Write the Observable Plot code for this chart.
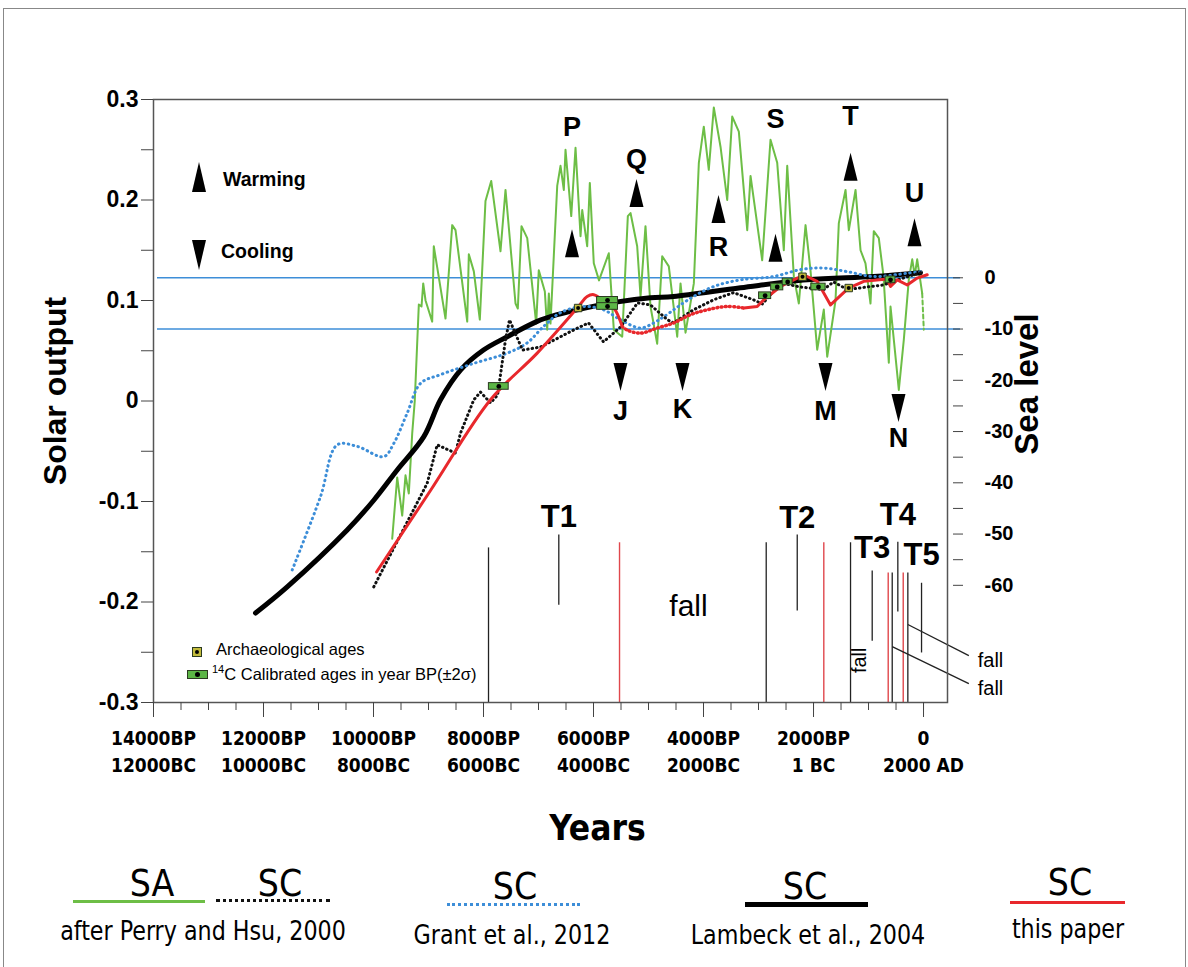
<!DOCTYPE html>
<html><head><meta charset="utf-8">
<script src="https://cdn.jsdelivr.net/npm/d3@7"></script>
<script src="https://cdn.jsdelivr.net/npm/@observablehq/plot@0.6"></script>
<style>
body{margin:0;background:#fff;font-family:Arial,"Liberation Sans",sans-serif;}
#wrap{position:relative;width:1188px;height:967px;overflow:hidden;background:#fff;}
#border{position:absolute;left:3px;top:8px;width:1181px;height:990px;border:1px solid #888;}
#chart{position:absolute;left:0;top:0;}
.abs{position:absolute;white-space:nowrap;color:#000;}
.ctr{transform:translate(-50%,-50%);}
.narrow{font-family:"Liberation Sans Narrow","DejaVu Sans Condensed","Arial Narrow",sans-serif;font-stretch:condensed;}
</style></head>
<body>
<div id="wrap">
<div id="border"></div>
<div id="chart"></div>
</div>
<script>
// ---------------- DATA ----------------
// x axis (years BP), tick labels
const X_TICK_BP = [14000, 12000, 10000, 8000, 6000, 4000, 2000, 0];
const X_TICK_BP_LABEL = ["14000BP","12000BP","10000BP","8000BP","6000BP","4000BP","2000BP","0"];
const X_TICK_CAL_LABEL = ["12000BC","10000BC","8000BC","6000BC","4000BC","2000BC","1 BC","2000 AD"];
const X_MINOR_STEP = 500;
const SOLAR_TICKS = [-0.3,-0.25,-0.2,-0.15,-0.1,-0.05,0,0.05,0.1,0.15,0.2,0.25,0.3];
const SEA_TICKS = [0,-5,-10,-15,-20,-25,-30,-35,-40,-45,-50,-55,-60];

// SA: solar activity (after Perry and Hsu, 2000) – solar output units
const saBP = [9660,9569,9478,9418,9358,9296,9250,9176,9127,9096,9054,8933,8904,8691,8569,8509,8296,8267,8176,8067,7964,7860,7691,7600,7418,7376,7309,7205,7042,6995,6885,6842,6812,6782,6660,6600,6540,6509,6405,6327,6236,6205,6115,6067,5995,5900,5722,5631,5478,5376,5327,5206,5145,5055,4964,4842,4751,4631,4478,4418,4327,4176,4085,3995,3904,3813,3691,3569,3478,3358,3205,3145,2933,2782,2660,2540,2478,2358,2267,2145,2055,1933,1813,1751,1600,1540,1418,1358,1236,1145,1055,964,904,813,727,631,600,449,358,267,205,160,115,24];
const saValue = [-0.137,-0.076,-0.114,-0.074,-0.092,-0.032,0.0,0.096,0.094,0.117,0.1,0.079,0.154,0.082,0.175,0.170,0.079,0.146,0.129,0.081,0.199,0.219,0.149,0.210,0.097,0.092,0.174,0.162,0.077,0.130,0.109,0.071,0.107,0.077,0.214,0.234,0.210,0.250,0.184,0.252,0.164,0.190,0.154,0.217,0.137,0.12,0.147,0.071,0.064,0.184,0.187,0.154,0.104,0.174,0.094,0.057,0.144,0.134,0.064,0.117,0.068,0.117,0.237,0.273,0.230,0.292,0.253,0.200,0.283,0.268,0.170,0.224,0.140,0.260,0.237,0.150,0.234,0.124,0.097,0.175,0.130,0.051,0.091,0.044,0.100,0.177,0.210,0.170,0.210,0.150,0.137,0.097,0.169,0.162,0.124,0.038,0.094,0.011,0.061,0.121,0.141,0.125,0.141,0.107];
const saTailBP = [24, -5];
const saTailValue = [0.107, 0.071];

// SC: sea-level curves (metres)
const perryBP = [9995,9024,8842,8509,8418,8176,8055,7873,7745,7600,7527,7436,7291,6964,6364,6091,5818,5509,5200,4964,4655,4545,4182,3818,3455,3091,2927,2600,2236,1818,1636,1382,964,727,473,55];
const perrySL = [-60.3,-40.1,-32.6,-34.2,-30.3,-23.8,-22.3,-24.4,-22.9,-12.1,-8.2,-10.5,-14.1,-13.5,-10.2,-8.8,-12.5,-9.6,-4.9,-5.3,-8.2,-8.8,-6.25,-4.3,-2.9,-4.3,-5.1,-1.0,-1.8,-2.3,-0.8,-2.3,-1.7,-1.4,-0.4,1.0];

const grantBP = [11478,10964,10660,10296,9813,9631,9387,9145,8782,8176,7569,7205,6909,6600,6182,5818,5509,5145,4904,4722,4236,3813,3327,2722,2236,1813,1387,904,296,55];
const grantSL = [-57.0,-42.7,-32.6,-32.9,-34.9,-32.3,-26.4,-20.6,-18.9,-16.7,-14.7,-12.7,-9.5,-6.8,-5.6,-6.25,-8.2,-9.8,-8.8,-7.6,-4.0,-1.7,-0.4,0.25,1.6,1.9,1.2,0.25,0.9,1.2];

const lambeckBP = [12145,11569,10478,9995,9569,9085,8782,8418,8000,7569,7024,6660,6296,5691,4964,4545,3327,2115,909,55];
const lambeckSL = [-65.4,-60.3,-49.2,-43.4,-37.5,-31.0,-23.8,-18.0,-14.1,-11.5,-8.5,-7.2,-6.25,-4.9,-3.9,-3.65,-1.95,-0.4,0.25,1.0];

const redBP = [9945,8964,7873,7024,6296,6115,5995,5813,5631,5478,5387,5145,4842,4540,4236,3933,3569,3267,3024,2904,2600,2296,2115,1933,1691,1364,1085,661,600,478,296,115,-67];
const redSL = [-57.4,-41.5,-23.8,-14.7,-5.9,-3.65,-3.3,-4.6,-5.9,-9.5,-10.2,-10.8,-9.8,-8.8,-7.2,-6.25,-5.6,-5.9,-5.6,-4.3,-1.7,-0.06,0.25,-0.7,-5.3,-2.0,-0.7,-0.25,-1.7,-0.4,-1.4,-0.06,0.6];
const redUncertainFrom = 5478, redUncertainTo = 3267;

// 14C calibrated ages (BP, ±2σ) and archaeological ages
const c14BP  = [7722, 5745, 5745, 2880, 2660, 2470, 1910, 600];
const c14Err = [180, 190, 190, 110, 110, 90, 130, 90];
const c14SL  = [-21.2, -4.4, -5.6, -3.5, -1.8, -0.8, -1.8, -0.4];
const archBP = [6280, 2200, 1360];
const archSL = [-5.9, 0.2, -2.0];

// warming / cooling events (solar units)
const warmLabel = ["P","Q","R","S","T","U"];
const warmBP = [6391, 5218, 3727, 2691, 1327, 164];
const warmValue = [0.157, 0.207, 0.191, 0.1525, 0.233, 0.168];
const warmLabelValue = [0.272, 0.240, 0.153, 0.280, 0.283, 0.207];
const coolLabel = ["J","K","M","N"];
const coolBP = [5509, 4382, 1782, 455];
const coolValue = [0.0239, 0.0239, 0.0239, -0.007];
const coolLabelValue = [-0.010, -0.008, -0.010, -0.037];

// sea-level change markers (sea level, m)
const stepBP = [7909, 5527, 2860, 1813, 1327, 642, 569, 369, 285];
const stepTopSL = [-52.7, -51.7, -51.7, -51.7, -51.7, -57.6, -57.6, -57.6, -57.6];
const stepSource = ["ref","paper","ref","paper","ref","paper","ref","paper","ref"];
const tName = ["T1","T2","T3","T4","T5"];
const tBP = [6631, 2296, 933, 467, 36];
const tTopSL = [-50.2, -50.2, -57.2, -51.6, -59.6];
const tBottomSL = [-63.9, -65.0, -70.9, -65.2, -73.2];
const tLabelSL = [-46.7, -46.9, -52.7, -46.3, -54.1];
const fallBP = [4273, 1164, -1218, -1218];
const fallValue = [-0.2045, -0.258, -0.2583, -0.2862];
const leaderFromBP = [285, 569], leaderFromValue = [-0.2224, -0.2444];
const leaderToBP = [-824, -824], leaderToValue = [-0.2533, -0.2813];

// ---------------- BUILD ----------------
const SL0 = 0.1226, SL_PER_M = 0.0051;        // dual-axis alignment: sea level 0 m ↔ solar 0.1226
const sl2s = m => SL0 + SL_PER_M * m;

const zipRows = (xs, ys, f = v => v) => xs.map((x, i) => ({bp: x, v: f(ys[i])}));
const sa = zipRows(saBP, saValue);
const saTail = zipRows(saTailBP, saTailValue);
const perry = zipRows(perryBP, perrySL, sl2s);
const grant = zipRows(grantBP, grantSL, sl2s);
const lambeck = zipRows(lambeckBP, lambeckSL, sl2s);
const red = zipRows(redBP, redSL, sl2s);
const redA = red.filter(d => d.bp >= redUncertainFrom);
const redB = red.filter(d => d.bp <= redUncertainFrom && d.bp >= redUncertainTo);
const redC = red.filter(d => d.bp <= redUncertainTo);
const c14 = c14BP.map((b, i) => ({bp: b, err: c14Err[i], sl: c14SL[i]}));
const arch = zipRows(archBP, archSL, sl2s);
const warm = warmBP.map((b, i) => ({bp: b, v: warmValue[i], lv: warmLabelValue[i], label: warmLabel[i]}));
const cool = coolBP.map((b, i) => ({bp: b, v: coolValue[i], lv: coolLabelValue[i], label: coolLabel[i]}));
const steps = stepBP.map((b, i) => ({bp: b, top: sl2s(stepTopSL[i]), src: stepSource[i]}));
const tRows = tBP.map((b, i) => ({bp: b, y1: sl2s(tBottomSL[i]), y2: sl2s(tTopSL[i]), ly: sl2s(tLabelSL[i]), name: tName[i]}));
const falls = fallBP.map((b, i) => ({bp: b, v: fallValue[i]}));
const leaders = leaderFromBP.map((b, i) => ({x1: b, y1: leaderFromValue[i], x2: leaderToBP[i], y2: leaderToValue[i]}));
const xMinor = d3.range(0, 14001, X_MINOR_STEP);

const tallUp = {draw(ctx, size) { const r = Math.sqrt(size / Math.PI); ctx.moveTo(0, -2 * r); ctx.lineTo(r, 2 * r); ctx.lineTo(-r, 2 * r); ctx.closePath(); }};
const tallDown = {draw(ctx, size) { const r = Math.sqrt(size / Math.PI); ctx.moveTo(0, 2 * r); ctx.lineTo(r, -2 * r); ctx.lineTo(-r, -2 * r); ctx.closePath(); }};

const NARROW = "'Liberation Sans Narrow','DejaVu Sans Condensed','Arial Narrow',sans-serif";
const GREEN = "#6dbe46", RED = "#e8282c", BLUE = "#3d8ed8";

const solarFmt = d => { const i = Math.round(d / 0.05); if (i % 2 !== 0) return ""; const v = i * 0.05; return Math.abs(v) < 1e-9 ? "0" : v.toFixed(1); };
const seaFmt = d => { const m = Math.round((d - SL0) / SL_PER_M); return m % 10 === 0 ? String(m) : ""; };
const xFmt = d => { const i = X_TICK_BP.indexOf(d); return X_TICK_BP_LABEL[i] + "\n" + X_TICK_CAL_LABEL[i]; };

const plot = Plot.plot({
  width: 1188, height: 967,
  marginLeft: 153, marginRight: 241, marginTop: 99, marginBottom: 265,
  x: {domain: [14000, -436], axis: null},
  y: {domain: [-0.3, 0.3], axis: null},
  style: {fontFamily: "Arial, 'Liberation Sans', sans-serif", background: "transparent", overflow: "visible", color: "#000"},
  marks: [
    Plot.ruleY([0, -10].map(sl2s), {stroke: BLUE, strokeWidth: 1.4, insetLeft: 4, insetRight: -13}),
    Plot.ruleX(steps.filter(d => d.src === "ref"), {x: "bp", y1: -0.3, y2: "top", stroke: "#222", strokeWidth: 1.3}),
    Plot.ruleX(steps.filter(d => d.src === "paper"), {x: "bp", y1: -0.3, y2: "top", stroke: "#e0474c", strokeWidth: 1.4}),
    Plot.ruleX(tRows, {x: "bp", y1: "y1", y2: "y2", stroke: "#222", strokeWidth: 1.3}),
    Plot.link(leaders, {x1: "x1", y1: "y1", x2: "x2", y2: "y2", stroke: "#222", strokeWidth: 1.3}),
    Plot.text(tRows, {x: "bp", y: "ly", text: "name", fontSize: 31, fontWeight: "bold"}),
    Plot.text(falls.slice(0, 1), {x: "bp", y: "v", text: () => "fall", fontSize: 30}),
    Plot.text(falls.slice(1, 2), {x: "bp", y: "v", text: () => "fall", fontSize: 20, rotate: -90}),
    Plot.text(falls.slice(2), {x: "bp", y: "v", text: () => "fall", fontSize: 20}),
    // curves
    Plot.line(sa, {x: "bp", y: "v", stroke: GREEN, strokeWidth: 2}),
    Plot.line(saTail, {x: "bp", y: "v", stroke: GREEN, strokeWidth: 2, strokeDasharray: "4,3"}),
    Plot.line(lambeck, {x: "bp", y: "v", stroke: "#000", strokeWidth: 5, curve: "catmull-rom"}),
    Plot.line(grant, {x: "bp", y: "v", stroke: BLUE, strokeWidth: 3, strokeDasharray: "0.5,4.5", strokeLinecap: "round", curve: "catmull-rom"}),
    Plot.line(perry, {x: "bp", y: "v", stroke: "#111", strokeWidth: 3, strokeDasharray: "0.5,4", strokeLinecap: "round"}),
    Plot.line(redA, {x: "bp", y: "v", stroke: RED, strokeWidth: 3, curve: "catmull-rom"}),
    Plot.line(redB, {x: "bp", y: "v", stroke: RED, strokeWidth: 3.5, strokeDasharray: "0.8,3.4", strokeLinecap: "round", curve: "catmull-rom"}),
    Plot.line(redC, {x: "bp", y: "v", stroke: RED, strokeWidth: 3}),
    // dated samples
    Plot.rect(c14, {x1: d => d.bp + d.err, x2: d => d.bp - d.err, y1: d => sl2s(d.sl - 0.65), y2: d => sl2s(d.sl + 0.65), fill: "#5cb646", stroke: "#2b3a20", strokeWidth: 1}),
    Plot.dot(c14, {x: "bp", y: d => sl2s(d.sl), r: 2.4, fill: "#000"}),
    Plot.dot(arch, {x: "bp", y: "v", symbol: "square", r: 4.2, fill: "#c2bb3c", stroke: "#2b3a20", strokeWidth: 1}),
    Plot.dot(arch, {x: "bp", y: "v", r: 2, fill: "#000"}),
    // events
    Plot.dot(warm, {x: "bp", y: "v", symbol: tallUp, r: 7, fill: "#000", stroke: "none"}),
    Plot.dot(cool, {x: "bp", y: "v", symbol: tallDown, r: 7, fill: "#000", stroke: "none"}),
    Plot.text(warm, {x: "bp", y: "lv", text: "label", fontSize: 27, fontWeight: "bold"}),
    Plot.text(cool, {x: "bp", y: "lv", text: "label", fontSize: 27, fontWeight: "bold"}),
    Plot.frame({stroke: "#555", strokeWidth: 1.5}),
    // axes
    Plot.axisY({anchor: "left", ticks: SOLAR_TICKS, tickFormat: solarFmt, tickSize: 12, tickPadding: 3, fontSize: 23, fontWeight: "bold", label: null, stroke: "#444"}),
    Plot.axisY({anchor: "right", ticks: SEA_TICKS.map(sl2s), tickFormat: seaFmt, tickSize: 10, dx: 5, tickPadding: 22, fontSize: 20, fontWeight: "bold", label: null, stroke: "#444"}),
    Plot.axisX({ticks: xMinor, tickSize: 8, tickFormat: () => "", label: null, stroke: "#444"}),
    Plot.axisX({ticks: X_TICK_BP, tickSize: 15, tickPadding: 8, tickFormat: xFmt, fontSize: 19, fontWeight: "bold", fontFamily: NARROW, lineHeight: 1.42, label: null, stroke: "#444"}),
    Plot.text(["Solar output"], {frameAnchor: "left", dx: -98, dy: -10, rotate: -90, textAnchor: "middle", text: d => d, fontSize: 32, fontWeight: "bold"}),
    Plot.text(["Sea level"], {frameAnchor: "right", dx: 80, dy: -17, rotate: -90, textAnchor: "middle", text: d => d, fontSize: 33, fontWeight: "bold"}),
    Plot.text(["Years"], {frameAnchor: "bottom", dx: 47, dy: 137, text: d => d, fontSize: 35, fontWeight: "bold", fontFamily: NARROW})
  ]
});
document.getElementById("chart").appendChild(plot);

// ---------------- HTML legends ----------------
const wrap = document.getElementById("wrap");
function add(html, css, cls = "abs") { const e = document.createElement("div"); e.className = cls; e.innerHTML = html; Object.assign(e.style, css); wrap.appendChild(e); return e; }
// warming / cooling key
add("", {left: "192px", top: "162px", width: 0, height: 0, borderLeft: "7.5px solid transparent", borderRight: "7.5px solid transparent", borderBottom: "30px solid #000"});
add("Warming", {left: "223px", top: "168px", fontSize: "19.5px", fontWeight: "bold"});
add("", {left: "192px", top: "240px", width: 0, height: 0, borderLeft: "7.5px solid transparent", borderRight: "7.5px solid transparent", borderTop: "30px solid #000"});
add("Cooling", {left: "221px", top: "240px", fontSize: "19.5px", fontWeight: "bold"});
// sample key
add("<div style='position:absolute;left:2px;top:2px;width:4px;height:4px;border-radius:50%;background:#000'></div>", {left: "192px", top: "647px", width: "8px", height: "8px", background: "#c2bb3c", border: "1px solid #2b3a20"});
add("Archaeological ages", {left: "216px", top: "640px", fontSize: "16.5px"});
add("<div style='position:absolute;left:7px;top:1px;width:5px;height:5px;border-radius:50%;background:#000'></div>", {left: "187px", top: "670px", width: "19px", height: "7px", background: "#5cb646", border: "1px solid #2b3a20"});
add("<sup style='font-size:11px'>14</sup>C Calibrated ages in year BP(±2σ)", {left: "212px", top: "663px", fontSize: "16.5px"});
// bottom legend
const big = {fontSize: "37px"}, cap = {fontSize: "26px", transform: "translate(-50%,-50%) scaleX(0.95)"};
function ctext(t, cx, cy, css) { return add(t, Object.assign({left: cx + "px", top: cy + "px"}, css), "abs ctr narrow"); }
ctext("SA", 152, 883, big); ctext("SC", 280, 883, big);
add("", {left: "73px", top: "900px", width: "132px", height: "3px", background: GREEN});
add("", {left: "216px", top: "899px", width: "114px", height: "0", borderTop: "3px dotted #111"});
ctext("after Perry and Hsu, 2000", 203, 931, cap);
ctext("SC", 515, 886, big);
add("", {left: "447px", top: "903px", width: "133px", height: "0", borderTop: "3px dotted " + BLUE});
ctext("Grant et al., 2012", 512, 935, cap);
ctext("SC", 805, 886, big);
add("", {left: "745px", top: "902px", width: "123px", height: "5px", background: "#000"});
ctext("Lambeck et al., 2004", 808, 935, cap);
ctext("SC", 1070, 882, big);
add("", {left: "1010px", top: "901px", width: "115px", height: "3px", background: RED});
ctext("this paper", 1068, 929, cap);
</script>
</body></html>
